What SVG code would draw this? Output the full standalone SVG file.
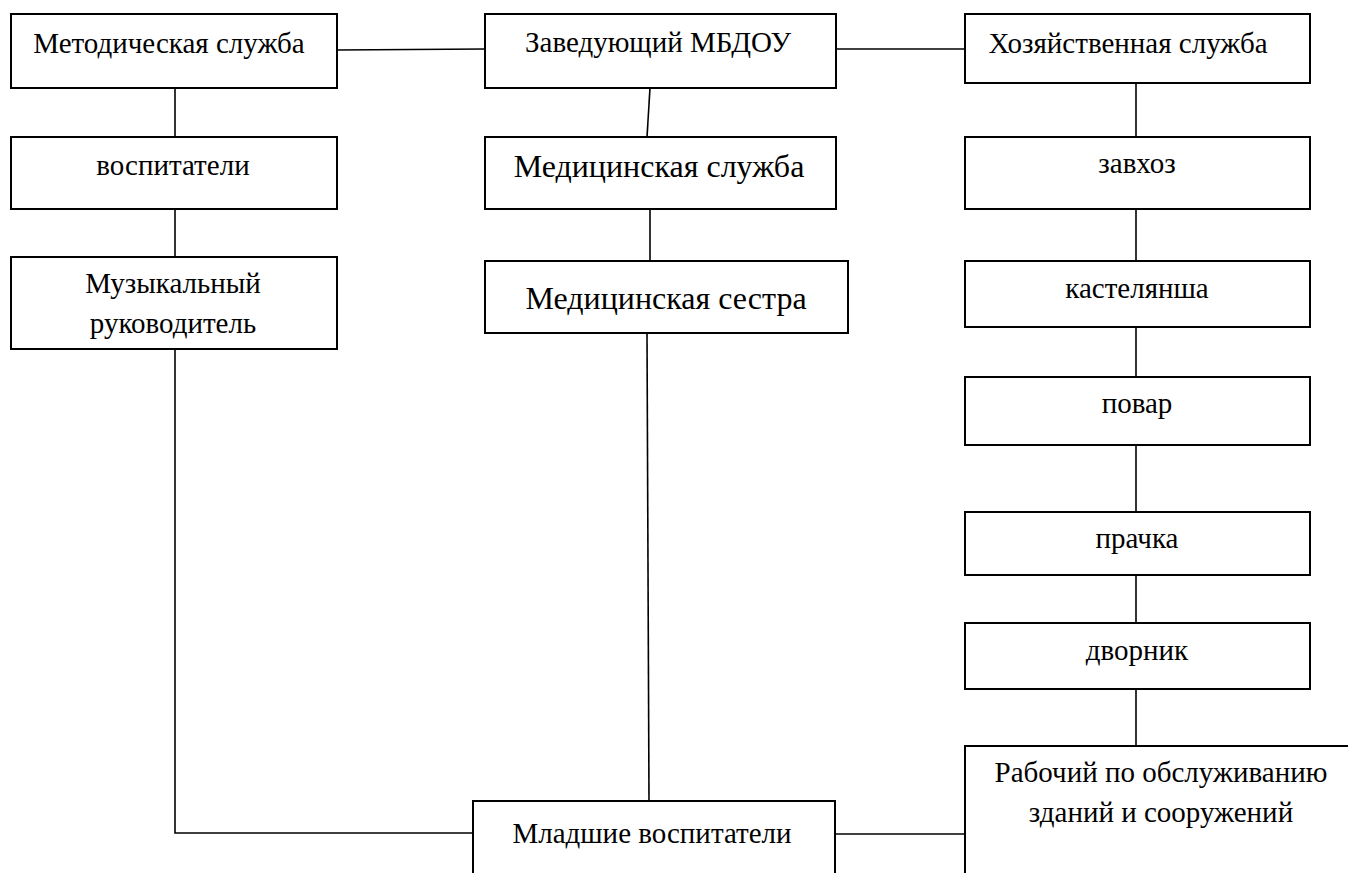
<svg xmlns="http://www.w3.org/2000/svg" width="1348" height="873" viewBox="0 0 1348 873" font-family="Liberation Serif, DejaVu Serif, serif">
<style>
.box{fill:#fff;stroke:#000;stroke-width:2}
.ln{stroke:#000;stroke-width:1.6;fill:none}
.t{font-family:"Liberation Serif";font-size:29px;fill:#000;text-anchor:middle}
.big{font-size:32px}
</style>
<rect width="1348" height="873" fill="#fff"/>
<g id="connectors">
<line class="ln" x1="337" y1="50" x2="485" y2="49"/>
<line class="ln" x1="836" y1="49" x2="965" y2="49"/>
<line class="ln" x1="175" y1="88" x2="175" y2="137"/>
<line class="ln" x1="175" y1="209" x2="175" y2="257"/>
<path class="ln" d="M175 349 V833 H473"/>
<line class="ln" x1="650" y1="88" x2="647" y2="137"/>
<line class="ln" x1="650" y1="209" x2="650" y2="261"/>
<line class="ln" x1="647" y1="333" x2="649" y2="801"/>
<line class="ln" x1="835" y1="834" x2="965" y2="834"/>
<line class="ln" x1="1136" y1="83" x2="1136" y2="137"/>
<line class="ln" x1="1136" y1="209" x2="1136" y2="261"/>
<line class="ln" x1="1136" y1="327" x2="1136" y2="377"/>
<line class="ln" x1="1136" y1="445" x2="1136" y2="512"/>
<line class="ln" x1="1136" y1="575" x2="1136" y2="623"/>
<line class="ln" x1="1136" y1="689" x2="1136" y2="746"/>
</g>
<g id="metod"><rect class="box" x="11" y="14" width="326" height="74"/><text class="t" x="169" y="53">Методическая служба</text></g>
<g id="vospit"><rect class="box" x="11" y="137" width="326" height="72"/><text class="t" x="173" y="175">воспитатели</text></g>
<g id="muz"><rect class="box" x="11" y="257" width="326" height="92"/><text class="t" x="173" y="293">Музыкальный</text><text class="t" x="173" y="333">руководитель</text></g>
<g id="zaved"><rect class="box" x="485" y="14" width="351" height="74"/><text class="t" x="658" y="52">Заведующий МБДОУ</text></g>
<g id="medsl"><rect class="box" x="485" y="137" width="351" height="72"/><text class="t big" x="659" y="177">Медицинская служба</text></g>
<g id="medses"><rect class="box" x="485" y="261" width="363" height="72"/><text class="t big" x="666" y="309">Медицинская сестра</text></g>
<g id="mladsh"><rect class="box" x="473" y="801" width="362" height="80"/><text class="t" x="652" y="843">Младшие воспитатели</text></g>
<g id="hoz"><rect class="box" x="965" y="14" width="345" height="69"/><text class="t" x="1128" y="53">Хозяйственная служба</text></g>
<g id="zavhoz"><rect class="box" x="965" y="137" width="345" height="72"/><text class="t" x="1137" y="173">завхоз</text></g>
<g id="kastel"><rect class="box" x="965" y="261" width="345" height="66"/><text class="t" x="1137" y="298">кастелянша</text></g>
<g id="povar"><rect class="box" x="965" y="377" width="345" height="68"/><text class="t" x="1137" y="413">повар</text></g>
<g id="prachka"><rect class="box" x="965" y="512" width="345" height="63"/><text class="t" x="1137" y="548">прачка</text></g>
<g id="dvornik"><rect class="box" x="965" y="623" width="345" height="66"/><text class="t" x="1137" y="660">дворник</text></g>
<g id="rabochiy"><rect class="box" x="965" y="746" width="400" height="140"/><text class="t" x="1161" y="782">Рабочий по обслуживанию</text><text class="t" x="1161" y="822">зданий и сооружений</text></g>
</svg>
